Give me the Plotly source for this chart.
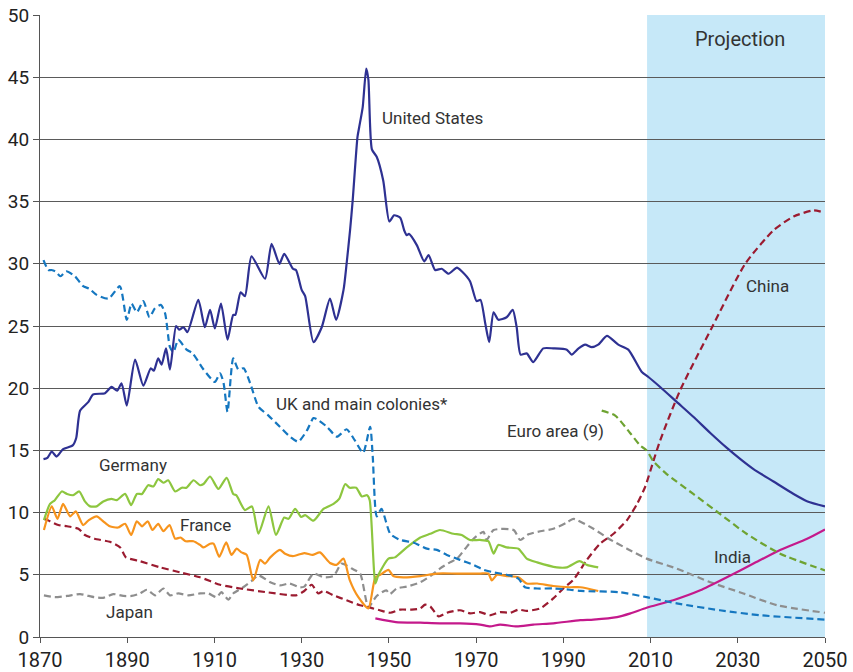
import plotly.graph_objects as go

# ---------------- data ----------------
us_years = [1870.8, 1871.7, 1872.7, 1873.8, 1875.3, 1877.5, 1878.3, 1879.2, 1881.1, 1882.2, 1884.9, 1886.4,
            1887.7, 1888.7, 1889.9, 1891.8, 1893.7, 1895.4, 1896.1, 1897.1, 1897.9, 1898.9, 1899.8, 1901.2,
            1901.9, 1902.9, 1903.8, 1906.3, 1907.8, 1909.0, 1910.1, 1911.5, 1913.0, 1914.3, 1914.8, 1916.0,
            1917.0, 1918.5, 1921.6, 1923.1, 1924.9, 1926.0, 1928.0, 1928.7, 1930.0, 1930.8, 1932.7, 1934.6,
            1936.5, 1937.9, 1939.6, 1940.3, 1941.1, 1941.7, 1942.8, 1943.2, 1944.0, 1944.8, 1945.3, 1946.1,
            1947.2, 1948.7, 1950.1, 1951.2, 1952.6, 1953.5, 1954.1, 1954.6, 1956.4, 1958.1, 1959.1, 1960.6,
            1962.1, 1963.7, 1965.6, 1966.7, 1968.6, 1970.1, 1971.0, 1972.1, 1973.0, 1974.0, 1975.1, 1977.0,
            1978.4, 1979.3, 1980.2, 1981.6, 1983.1, 1985.4, 1987.7, 1990.8, 1991.9, 1993.5, 1995.0, 1996.5,
            1998.0, 2000.0, 2002.6, 2004.9, 2008.0, 2009.5, 2012.2, 2016.0, 2019.8, 2023.7, 2027.5, 2030.6,
            2033.6, 2038.2, 2042.8, 2046.0, 2050.0]
us_values = [14.3, 14.4, 14.9, 14.5, 15.1, 15.4, 16.0, 18.2, 18.9, 19.5, 19.6, 20.1,
             19.8, 20.4, 18.6, 22.3, 20.2, 21.6, 21.4, 22.4, 21.9, 23.2, 21.5, 25.0,
             24.7, 24.9, 24.5, 27.1, 24.9, 26.3, 24.8, 26.8, 23.9, 25.9, 25.9, 27.7,
             27.4, 30.6, 28.8, 31.6, 30.0, 30.8, 29.6, 29.5, 27.9, 27.4, 23.7, 24.9,
             27.2, 25.5, 27.9, 30.0, 32.7, 35.1, 40.2, 41.0, 42.6, 45.7, 44.8, 39.2,
             38.6, 36.7, 33.4, 33.9, 33.7, 32.7, 32.3, 32.4, 31.5, 30.2, 30.7, 29.5,
             29.6, 29.2, 29.7, 29.4, 28.6, 27.0, 27.1, 25.2, 23.7, 26.1, 25.5, 25.7,
             26.3, 24.9, 22.7, 22.8, 22.1, 23.2, 23.2, 23.1, 22.7, 23.2, 23.5, 23.3,
             23.5, 24.2, 23.5, 23.1, 21.3, 20.9, 20.1, 18.9, 17.7, 16.4, 15.2, 14.3,
             13.5, 12.5, 11.5, 10.9, 10.5]

uk_years = [1870.8, 1871.9, 1872.6, 1873.5, 1874.7, 1876.0, 1878.0, 1879.9, 1881.3, 1883.0, 1885.7, 1888.3,
            1889.9, 1891.0, 1892.2, 1893.7, 1895.1, 1896.3, 1897.7, 1898.7, 1899.8, 1900.6, 1901.7, 1903.6,
            1905.0, 1907.5, 1910.1, 1911.3, 1912.1, 1913.0, 1914.3, 1915.5, 1916.7, 1918.2, 1920.1, 1922.4,
            1925.0, 1927.0, 1929.2, 1931.2, 1932.7, 1933.5, 1935.8, 1938.1, 1940.3, 1942.2, 1944.1, 1945.7,
            1946.3, 1947.2, 1948.3, 1950.3, 1952.6, 1955.6, 1958.7, 1961.0, 1963.3, 1966.3, 1969.4, 1971.7,
            1974.0, 1977.0, 1979.7, 1981.2, 1984.0, 1987.7, 1991.5, 1994.0, 2003.0, 2009.1, 2016.0, 2025.9,
            2035.1, 2050.0]
uk_values = [30.3, 29.5, 29.5, 29.4, 29.0, 29.4, 29.0, 28.2, 28.0, 27.5, 27.2, 28.2,
             25.5, 26.8, 26.1, 27.0, 25.7, 26.4, 26.7, 26.0, 23.3, 22.9, 23.9, 23.1,
             22.8, 21.5, 20.5, 21.2, 20.4, 18.1, 22.4, 21.5, 21.6, 20.4, 18.5, 17.8,
             16.9, 16.2, 15.7, 16.6, 17.6, 17.5, 16.9, 16.1, 16.7, 15.8, 14.8, 16.9,
             14.5, 9.7, 10.3, 8.3, 7.8, 7.6, 7.1, 7.0, 6.6, 6.2, 5.8, 5.4,
             5.2, 5.0, 4.7, 4.0, 3.9, 3.9, 3.8, 3.7, 3.6, 3.2, 2.7, 2.15,
             1.75, 1.4]

germany_years = [1870.9, 1872.3, 1873.4, 1875.0, 1876.2, 1877.6, 1879.0, 1880.3, 1881.5, 1883.0, 1884.5, 1886.4,
                 1887.6, 1889.5, 1890.9, 1892.2, 1893.4, 1894.8, 1896.0, 1897.1, 1898.3, 1899.4, 1901.0, 1902.5,
                 1903.6, 1905.2, 1906.7, 1907.5, 1909.0, 1910.9, 1912.8, 1914.3, 1915.0, 1917.0, 1918.6, 1920.1,
                 1922.4, 1924.1, 1926.0, 1927.0, 1928.5, 1929.9, 1930.8, 1932.7, 1935.0, 1937.3, 1938.6, 1940.0,
                 1941.0, 1942.5, 1943.8, 1945.0, 1945.6, 1946.9, 1947.6, 1949.9, 1951.4, 1954.1, 1957.2, 1959.5,
                 1961.7, 1964.8, 1966.7, 1968.6, 1970.9, 1972.8, 1974.0, 1975.1, 1977.0, 1979.7, 1981.6, 1984.0,
                 1988.5, 1990.8, 1993.7, 1995.4, 1998.0]
germany_values = [9.4, 10.7, 11.0, 11.7, 11.5, 11.4, 11.7, 10.9, 10.5, 10.5, 10.9, 11.1,
                  11.0, 11.5, 10.6, 11.5, 11.5, 12.2, 12.1, 12.7, 12.4, 12.6, 11.7, 12.0,
                  12.0, 12.6, 12.2, 12.3, 12.9, 11.9, 12.8, 11.5, 11.4, 10.2, 10.5, 8.3,
                  10.5, 8.2, 9.6, 9.5, 10.3, 9.65, 9.8, 9.35, 10.3, 10.7, 11.1, 12.3,
                  12.0, 12.0, 11.3, 11.4, 11.0, 4.3, 5.0, 6.3, 6.4, 7.2, 8.0, 8.3,
                  8.6, 8.3, 8.2, 7.8, 7.8, 7.7, 6.7, 7.4, 7.2, 7.1, 6.3, 6.0,
                  5.6, 5.6, 6.1, 5.8, 5.6]

france_years = [1870.9, 1872.7, 1874.0, 1875.3, 1876.9, 1878.2, 1879.9, 1881.2, 1883.0, 1884.5, 1886.0, 1887.9,
                1889.5, 1890.9, 1892.2, 1893.4, 1894.7, 1895.8, 1897.1, 1898.3, 1899.7, 1901.0, 1902.2, 1903.4,
                1905.2, 1906.7, 1907.5, 1909.0, 1909.8, 1911.1, 1912.7, 1913.9, 1915.1, 1916.2, 1917.4, 1918.9,
                1920.5, 1921.6, 1922.8, 1925.0, 1926.2, 1928.0, 1930.6, 1932.5, 1934.2, 1936.5, 1938.0, 1939.6,
                1941.0, 1943.0, 1945.3, 1946.9, 1948.0, 1949.9, 1951.0, 1953.3, 1957.2, 1961.0, 1965.6, 1970.9,
                1972.8, 1973.6, 1974.8, 1977.0, 1979.7, 1981.6, 1984.0, 1987.7, 1991.5, 1993.9, 1998.0]
france_values = [8.6, 10.5, 9.5, 10.7, 9.7, 10.1, 9.0, 9.4, 9.7, 9.3, 8.9, 8.8,
                 9.1, 8.2, 9.3, 8.9, 9.3, 8.6, 9.1, 8.5, 9.0, 7.9, 8.0, 7.7,
                 7.7, 7.4, 7.2, 7.5, 7.5, 6.45, 7.6, 6.6, 7.1, 6.8, 6.6, 4.55,
                 6.2, 5.9, 6.4, 7.0, 6.7, 6.5, 6.75, 6.6, 6.8, 5.95, 5.8, 6.3,
                 4.6, 3.2, 2.3, 4.8, 5.0, 5.4, 4.9, 4.8, 4.9, 5.1, 5.1, 5.1,
                 5.1, 4.55, 5.0, 4.9, 4.8, 4.3, 4.3, 4.1, 4.0, 4.0, 3.7]

china_years = [1870.9, 1872.3, 1874.2, 1876.2, 1878.8, 1880.3, 1882.5, 1886.0, 1888.4, 1889.7, 1892.9, 1897.5,
               1902.1, 1906.7, 1911.3, 1915.9, 1922.0, 1928.7, 1930.6, 1932.3, 1933.8, 1935.0, 1937.3, 1940.3,
               1943.4, 1945.3, 1947.9, 1950.3, 1952.6, 1955.2, 1957.2, 1958.3, 1959.5, 1961.4, 1963.3, 1966.3,
               1968.6, 1970.9, 1973.2, 1975.5, 1977.8, 1979.7, 1981.6, 1984.7, 1987.7, 1990.0, 1992.3, 1995.4,
               1998.4, 2001.5, 2004.6, 2006.9, 2008.8, 2010.7, 2012.2, 2016.8, 2024.1, 2031.7, 2038.2, 2042.8,
               2047.4, 2050.0]
china_values = [9.5, 9.3, 9.0, 8.9, 8.7, 8.2, 7.9, 7.65, 7.2, 6.4, 6.1, 5.6,
                5.2, 4.8, 4.2, 3.9, 3.6, 3.35, 3.7, 4.2, 3.5, 3.7, 3.35, 2.95,
                2.55, 2.4, 2.15, 1.95, 2.2, 2.2, 2.3, 2.6, 2.45, 1.65, 1.95, 2.15,
                1.9, 2.0, 1.75, 2.0, 1.95, 2.2, 2.1, 2.3, 3.1, 3.9, 4.6, 6.2,
                7.5, 8.3, 9.4, 10.7, 12.1, 14.2, 15.8, 19.85, 24.9, 30.0, 32.7, 33.8,
                34.3, 34.1]

japan_years = [1870.9, 1873.4, 1876.2, 1879.2, 1882.4, 1884.5, 1886.8, 1889.1, 1891.0, 1892.9, 1894.5, 1896.4,
               1898.3, 1899.8, 1901.7, 1904.0, 1906.7, 1908.6, 1910.5, 1911.6, 1913.2, 1914.3, 1916.6, 1918.5,
               1920.1, 1922.8, 1925.0, 1927.2, 1929.5, 1930.6, 1932.7, 1935.0, 1937.3, 1939.2, 1941.5, 1943.4,
               1945.3, 1947.2, 1949.4, 1950.2, 1951.8, 1954.1, 1957.2, 1959.5, 1961.7, 1964.0, 1965.6, 1967.5,
               1969.4, 1971.7, 1972.4, 1974.0, 1978.6, 1980.1, 1982.0, 1984.7, 1987.7, 1990.8, 1992.3, 1996.9,
               2000.4, 2004.6, 2009.1, 2016.0, 2023.7, 2031.3, 2039.0, 2050.0]
japan_values = [3.35, 3.2, 3.3, 3.45, 3.2, 3.15, 3.45, 3.3, 3.3, 3.5, 3.8, 3.35,
                3.9, 3.35, 3.5, 3.35, 3.5, 3.5, 3.2, 3.6, 3.0, 3.5, 4.0, 4.5,
                4.95, 4.4, 4.15, 4.3, 4.0, 4.05, 5.1, 4.8, 4.9, 5.9, 5.5, 5.1,
                2.4, 3.3, 3.75, 3.45, 3.9, 4.05, 4.4, 4.9, 5.5, 6.0, 6.3, 7.1,
                7.9, 8.45, 7.8, 8.6, 8.6, 7.8, 8.25, 8.5, 8.7, 9.2, 9.5, 8.7,
                7.9, 7.1, 6.3, 5.5, 4.4, 3.5, 2.55, 1.95]

euro_years = [1998.8, 2001.9, 2005.3, 2007.6, 2009.1, 2010.7, 2013.7, 2019.8, 2025.9, 2032.0, 2039.7, 2050.0]
euro_values = [18.2, 17.8, 16.4, 15.4, 15.0, 14.1, 13.1, 11.5, 9.9, 8.3, 6.7, 5.35]

india_years = [1946.9, 1951.6, 1957.2, 1961.7, 1966.3, 1970.9, 1973.2, 1975.5, 1979.3, 1983.1, 1987.7, 1993.9,
               1996.9, 2002.3, 2005.4, 2009.1, 2015.2, 2021.4, 2027.5, 2033.6, 2039.7, 2045.9, 2050.0]
india_values = [1.5, 1.2, 1.15, 1.1, 1.1, 1.0, 0.85, 1.0, 0.85, 1.0, 1.1, 1.35,
                1.4, 1.6, 1.9, 2.35, 2.95, 3.75, 4.8, 5.9, 7.0, 7.9, 8.65]

x_ticks = [1870, 1890, 1910, 1930, 1950, 1970, 1990, 2010, 2030, 2050]
y_ticks = [0, 5, 10, 15, 20, 25, 30, 35, 40, 45, 50]
projection_start = 2009.2
projection_end = 2050

series = [
    ("Japan", japan_years, japan_values, "#8e8e8e", "dash"),
    ("China", china_years, china_values, "#9b1b30", "dash"),
    ("India", india_years, india_values, "#c4198b", "solid"),
    ("France", france_years, france_values, "#f7941d", "solid"),
    ("Germany", germany_years, germany_values, "#8dc63f", "solid"),
    ("UK and main colonies*", uk_years, uk_values, "#1577c0", "dash"),
    ("Euro area (9)", euro_years, euro_values, "#6ea332", "dash"),
    ("United States", us_years, us_values, "#2e3192", "solid"),
]

labels = [
    ("United States", 1948.0, 41.7),
    ("UK and main colonies*", 1923.7, 18.7),
    ("Euro area (9)", 1976.7, 16.6),
    ("Germany", 1883.1, 13.8),
    ("France", 1901.7, 9.0),
    ("Japan", 1884.7, 2.05),
    ("China", 2031.5, 28.2),
    ("India", 2024.1, 6.4),
]

FONT = "Roboto"
TEXT = "#333333"

fig = go.Figure()
for name, xs, ys, color, dash in series:
    fig.add_trace(go.Scatter(
        x=xs, y=ys, mode="lines", name=name,
        line=dict(color=color, width=2.2, dash=("7px,4px" if dash == "dash" else "solid"),
                  shape="spline", smoothing=0.6),
        hoverinfo="x+y+name",
    ))

fig.add_shape(type="rect", xref="x", yref="y", x0=projection_start, x1=projection_end,
              y0=0, y1=50, fillcolor="#c6e8f8", line=dict(width=0), layer="below")

for text, x, y in labels:
    fig.add_annotation(x=x, y=y, text=text, showarrow=False, xanchor="left", yanchor="middle",
                       font=dict(family=FONT, size=17, color=TEXT))

fig.add_annotation(x=2019.7, y=48.1, text="Projection", showarrow=False, xanchor="left",
                   yanchor="middle", font=dict(family=FONT, size=20, color=TEXT))

fig.update_layout(
    width=853, height=672,
    margin=dict(l=40, r=28, t=15, b=35),
    paper_bgcolor="white", plot_bgcolor="white",
    showlegend=False,
    font=dict(family=FONT, color=TEXT),
)
fig.update_xaxes(range=[1870, 2050], tickvals=x_ticks, ticktext=[str(t) for t in x_ticks],
                 ticks="outside", ticklen=5, tickcolor="#555555", showgrid=False, zeroline=False,
                 showline=True, linecolor="#555555", linewidth=1, automargin=False,
                 tickfont=dict(family=FONT, size=20, color="#222222"))
fig.update_yaxes(range=[0, 50], tickvals=y_ticks, ticks="outside", ticklen=6, tickcolor="#555555",
                 showgrid=True, gridcolor="#5a5a5a", gridwidth=1, zeroline=False,
                 showline=True, linecolor="#555555", linewidth=1, automargin=False,
                 tickfont=dict(family=FONT, size=19, color="#222222"))

# remove the default page margin so the 853x672 figure fills the window exactly
fig.write_html("out.html",
               config={"displayModeBar": False},
               post_script="document.body.style.margin='0';document.body.style.padding='0';")
